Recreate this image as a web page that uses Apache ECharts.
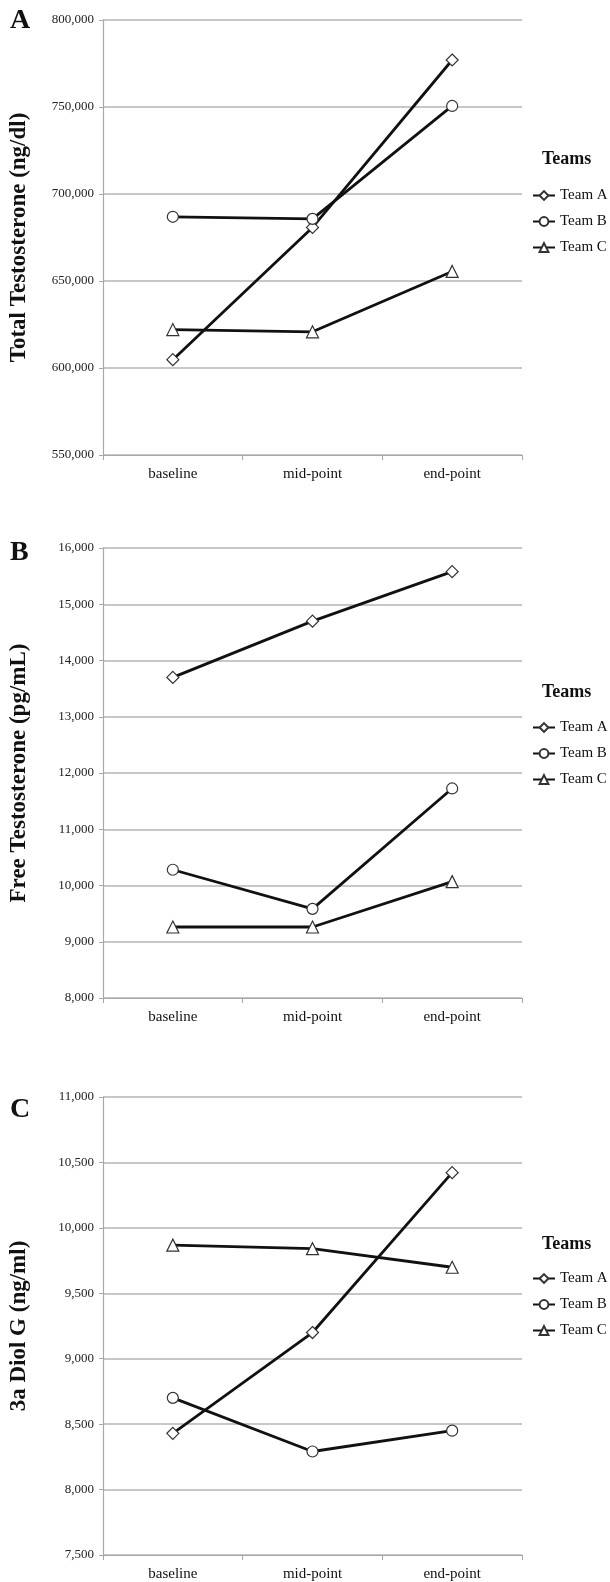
<!DOCTYPE html>
<html>
<head>
<meta charset="utf-8">
<script src="https://cdn.jsdelivr.net/npm/echarts@6/dist/echarts.min.js"></script>
<style>
  html, body { margin: 0; padding: 0; background: #fff; }
  #main { width: 610px; height: 1582px; }
</style>
</head>
<body>
<div id="main"></div>
<script>
// categories and team names
const categories = ['baseline', 'mid-point', 'end-point'];
const teams = ['Team A', 'Team B', 'Team C'];

// A: total testosterone (ng/dl)
const totalTeamA = [604800, 680800, 777000];
const totalTeamB = [686900, 685700, 750600];
const totalTeamC = [622100, 620800, 655500];

// B: free testosterone (pg/mL)
const freeTeamA = [13700, 14700, 15580];
const freeTeamB = [10280, 9585, 11725];
const freeTeamC = [9262, 9262, 10069];

// C: 3a diol G (ng/ml)
const diolTeamA = [8430, 9200, 10422];
const diolTeamB = [8701, 8291, 8450];
const diolTeamC = [9868, 9841, 9699];

// y axis ranges per panel
const yMins = [550000, 8000, 7500];
const yMaxs = [800000, 16000, 11000];
const yIntervals = [50000, 1000, 500];
const yNames = ['Total Testosterone (ng/dl)', 'Free Testosterone (pg/mL)', '3a Diol G (ng/ml)'];
const letters = ['A', 'B', 'C'];

const panelData = [
  [totalTeamA, totalTeamB, totalTeamC],
  [freeTeamA, freeTeamB, freeTeamC],
  [diolTeamA, diolTeamB, diolTeamC]
];

// layout (pixels)
const gridTops = [20, 548, 1097];
const gridHeights = [435, 450, 458];
const letterTops = [7, 539, 1096];
const teamsTops = [150, 683, 1235];
const legendTops = [188, 720, 1271];

const serif = "'Liberation Serif', 'Times New Roman', serif";
const symbols = ['diamond', 'circle', 'triangle'];
const symbolSizes = [12, 11, 12];

const chart = echarts.init(document.getElementById('main'));

const grid = [], xAxis = [], yAxis = [], series = [], legend = [], title = [];

for (let p = 0; p < 3; p++) {
  grid.push({ left: 97, right: 88, top: gridTops[p], height: gridHeights[p] });
  xAxis.push({
    type: 'category',
    gridIndex: p,
    data: categories,
    boundaryGap: true,
    axisLine: { lineStyle: { color: '#a8a8a8', width: 1.2 } },
    axisTick: { show: true, length: 5, lineStyle: { color: '#a8a8a8' } },
    axisLabel: { color: '#111', fontFamily: serif, fontSize: 15, margin: 12 }
  });
  yAxis.push({
    type: 'value',
    gridIndex: p,
    min: yMins[p],
    max: yMaxs[p],
    interval: yIntervals[p],
    name: yNames[p],
    nameLocation: 'middle',
    nameRotate: 90,
    nameGap: 72,
    nameTextStyle: { fontFamily: serif, fontSize: 23, fontWeight: 'bold', color: '#111' },
    axisLine: { show: true, lineStyle: { color: '#a8a8a8', width: 1.2 } },
    axisTick: { show: true, length: 4, lineStyle: { color: '#a8a8a8' } },
    splitLine: { lineStyle: { color: '#b4b4b4', width: 1.5 } },
    axisLabel: {
      color: '#222',
      fontFamily: serif,
      fontSize: 13,
      margin: 9,
      formatter: v => v.toLocaleString('en-US')
    }
  });
  for (let t = 0; t < 3; t++) {
    series.push({
      type: 'line',
      name: teams[t],
      xAxisIndex: p,
      yAxisIndex: p,
      data: panelData[p][t],
      symbol: symbols[t],
      symbolSize: symbolSizes[t],
      lineStyle: { color: '#111', width: 2.8 },
      itemStyle: { color: '#fff', borderColor: '#333', borderWidth: 1.2 },
      z: 3 + t
    });
  }
  legend.push({
    data: teams,
    orient: 'vertical',
    left: 532,
    top: legendTops[p],
    itemGap: 11,
    itemWidth: 22,
    itemHeight: 11,
    padding: 0,
    selectedMode: false,
    textStyle: { fontFamily: serif, fontSize: 15, color: '#111' }
  });
  title.push({
    text: letters[p],
    left: 10,
    top: letterTops[p],
    padding: 0,
    textStyle: { fontFamily: serif, fontSize: 28, fontWeight: 'bold', color: '#111' }
  });
  title.push({
    text: 'Teams',
    left: 542,
    top: teamsTops[p],
    padding: 0,
    textStyle: { fontFamily: serif, fontSize: 18, fontWeight: 'bold', color: '#111' }
  });
}

chart.setOption({
  animation: false,
  title,
  legend,
  grid,
  xAxis,
  yAxis,
  series
});
</script>
</body>
</html>
